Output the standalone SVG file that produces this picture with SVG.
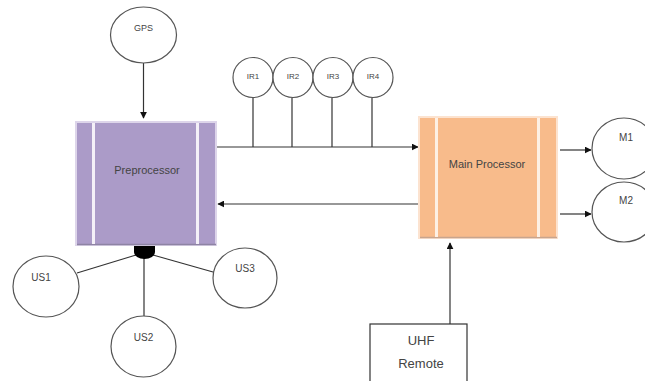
<svg xmlns="http://www.w3.org/2000/svg" width="645" height="381" viewBox="0 0 645 381">
<style>
.c{fill:#fff;stroke:#555;stroke-width:1.2}
.l{stroke:#333;stroke-width:1.2;fill:none}
.t{font-family:"Liberation Sans",Arial,sans-serif;fill:#444;text-anchor:middle}
.gap{stroke:#f4f0f8;stroke-width:3}
.gapo{stroke:#fdf0e4;stroke-width:3}
</style>
<defs>
<marker id="ah" viewBox="0 0 10 10" refX="9" refY="5" markerWidth="7" markerHeight="7" orient="auto" markerUnits="userSpaceOnUse">
<path d="M0,0 L10,5 L0,10 z" fill="#111"/>
</marker>
</defs>
<rect width="645" height="381" fill="#fff"/>
<g id="connectors">
<line class="l" x1="143.5" y1="63" x2="143.5" y2="118" marker-end="url(#ah)"/>
<line class="l" x1="216" y1="147" x2="418" y2="147" marker-end="url(#ah)"/>
<line class="l" x1="253" y1="98" x2="253" y2="147"/>
<line class="l" x1="292" y1="98" x2="292" y2="147"/>
<line class="l" x1="332" y1="98" x2="332" y2="147"/>
<line class="l" x1="372" y1="98" x2="372" y2="147"/>
<line class="l" x1="419" y1="204" x2="218" y2="204" marker-end="url(#ah)"/>
<line class="l" x1="560" y1="150" x2="591" y2="150" marker-end="url(#ah)"/>
<line class="l" x1="560" y1="214" x2="591" y2="214" marker-end="url(#ah)"/>
<line class="l" x1="450" y1="324" x2="450" y2="243" marker-end="url(#ah)"/>
<line class="l" x1="77" y1="273" x2="136" y2="255"/>
<line class="l" x1="153" y1="255" x2="213" y2="272"/>
<line class="l" x1="144" y1="258" x2="144" y2="316"/>
</g>
<g id="gps">
<ellipse class="c" cx="143.5" cy="35" rx="33" ry="28"/>
<text class="t" x="143.5" y="31" font-size="9">GPS</text>
</g>
<g id="preprocessor">
<rect x="76" y="122" width="140" height="123" fill="#ab9bc8" stroke="#ddd5ea" stroke-width="2"/>
<line x1="77" y1="244.5" x2="216" y2="244.5" stroke="#8e84a4" stroke-width="1.5"/>
<line class="gap" x1="93.5" y1="123" x2="93.5" y2="244"/>
<line class="gap" x1="197.5" y1="123" x2="197.5" y2="244"/>
<text class="t" x="147" y="174" font-size="11">Preprocessor</text>
<path d="M134,246 H155 V252 A10.5,7 0 0 1 134,252 Z" fill="#000"/>
</g>
<g id="ir1"><circle class="c" cx="253" cy="77.5" r="20"/><text class="t" x="253" y="79" font-size="8">IR1</text></g>
<g id="ir2"><circle class="c" cx="293" cy="77.5" r="20"/><text class="t" x="293" y="79" font-size="8">IR2</text></g>
<g id="ir3"><circle class="c" cx="333" cy="77.5" r="20"/><text class="t" x="333" y="79" font-size="8">IR3</text></g>
<g id="ir4"><circle class="c" cx="373" cy="77.5" r="20"/><text class="t" x="373" y="79" font-size="8">IR4</text></g>
<g id="main">
<rect x="419" y="117" width="138" height="121" fill="#f8bb8b" stroke="#fce3d0" stroke-width="2"/>
<line x1="420" y1="237.5" x2="557" y2="237.5" stroke="#c8a58e" stroke-width="1.5"/>
<line class="gapo" x1="436.5" y1="118" x2="436.5" y2="237"/>
<line class="gapo" x1="538.5" y1="118" x2="538.5" y2="237"/>
<text class="t" x="487" y="168" font-size="11">Main Processor</text>
</g>
<g id="m1"><ellipse class="c" cx="624" cy="148.5" rx="32" ry="30.5"/><text class="t" x="626" y="141" font-size="10">M1</text></g>
<g id="m2"><ellipse class="c" cx="624" cy="212" rx="32" ry="30"/><text class="t" x="626" y="204" font-size="10">M2</text></g>
<g id="us1"><ellipse class="c" cx="46" cy="286.5" rx="33" ry="30.5"/><text class="t" x="41" y="281" font-size="10">US1</text></g>
<g id="us3"><ellipse class="c" cx="245" cy="278" rx="32" ry="30"/><text class="t" x="245" y="272" font-size="10">US3</text></g>
<g id="us2"><ellipse class="c" cx="143.5" cy="346.5" rx="32.5" ry="30.5"/><text class="t" x="143.5" y="341" font-size="10">US2</text></g>
<g id="uhf">
<rect x="370" y="324" width="97" height="70" fill="#fff" stroke="#333" stroke-width="1.2"/>
<text class="t" x="421" y="345" font-size="13" fill="#3a3030">UHF</text>
<text class="t" x="421" y="368" font-size="13" fill="#3a3030">Remote</text>
</g>
</svg>
